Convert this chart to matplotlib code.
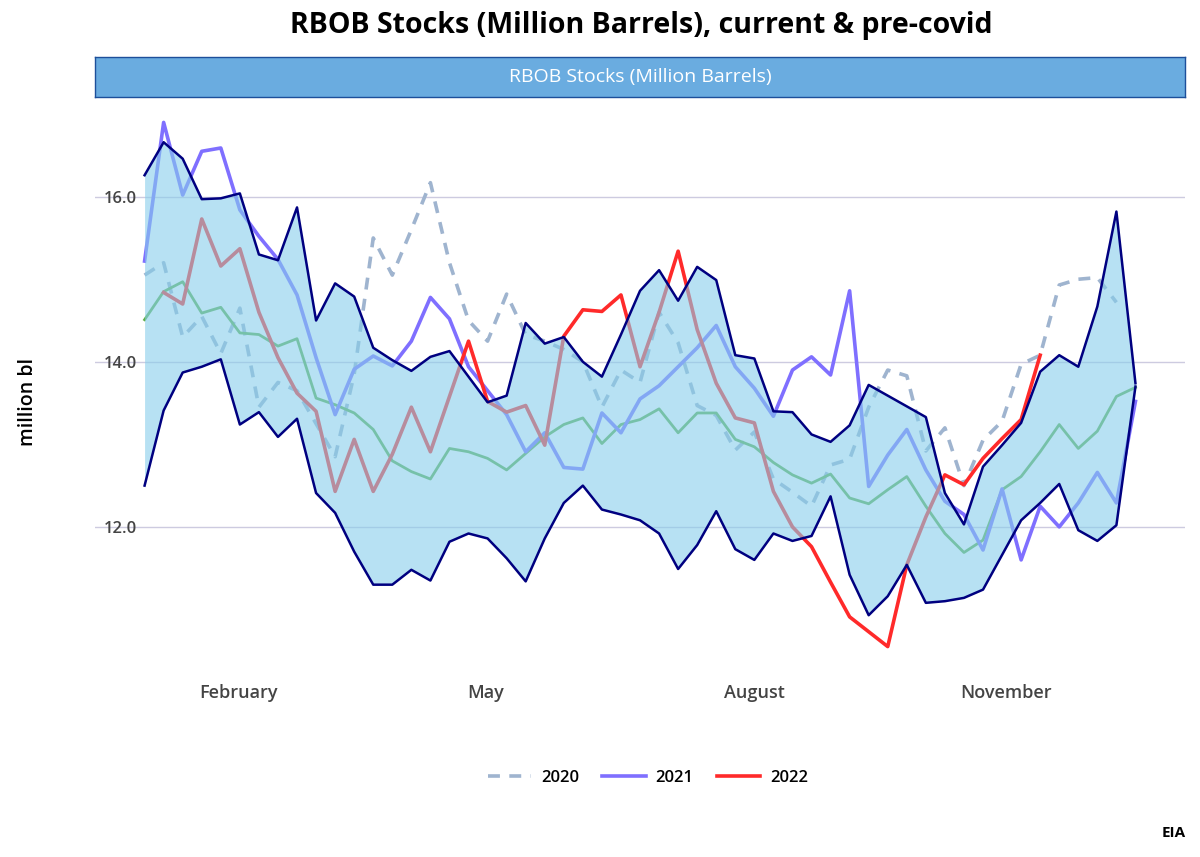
import numpy as np
import matplotlib
matplotlib.use("Agg")
import matplotlib.pyplot as plt
from matplotlib.lines import Line2D

plt.rcParams['font.family'] = ['Open Sans', 'DejaVu Sans']

# weekly RBOB stocks, million barrels (week index 0..52)
nan = np.nan
range_max = [16.26, 16.66, 16.46, 15.97, 15.98, 16.04, 15.30, 15.23, 15.87, 14.50,
             14.95, 14.79, 14.17, 14.02, 13.89, 14.06, 14.13, 13.82, 13.51, 13.59,
             14.47, 14.22, 14.30, 14.00, 13.82, 14.33, 14.86, 15.11, 14.74, 15.15,
             14.99, 14.08, 14.04, 13.40, 13.39, 13.12, 13.03, 13.23, 13.72, 13.59,
             13.46, 13.33, 12.41, 12.03, 12.73, 12.99, 13.26, 13.88, 14.08, 13.94,
             14.67, 15.82, 13.74]
range_min = [12.50, 13.41, 13.87, 13.94, 14.03, 13.24, 13.39, 13.09, 13.31, 12.41,
             12.17, 11.70, 11.30, 11.30, 11.48, 11.35, 11.82, 11.92, 11.86, 11.62,
             11.34, 11.86, 12.29, 12.50, 12.21, 12.15, 12.08, 11.92, 11.49, 11.78,
             12.19, 11.73, 11.60, 11.92, 11.83, 11.89, 12.37, 11.42, 10.93, 11.16,
             11.54, 11.08, 11.10, 11.14, 11.24, 11.66, 12.08, 12.29, 12.52, 11.96,
             11.83, 12.02, 13.70]
range_avg = [14.51, 14.85, 14.97, 14.59, 14.66, 14.35, 14.33, 14.19, 14.28, 13.56,
             13.48, 13.38, 13.18, 12.80, 12.67, 12.58, 12.95, 12.91, 12.83, 12.69,
             12.89, 13.09, 13.24, 13.32, 13.01, 13.24, 13.30, 13.43, 13.14, 13.38,
             13.38, 13.06, 12.97, 12.78, 12.63, 12.53, 12.64, 12.35, 12.28, 12.45,
             12.61, 12.25, 11.92, 11.69, 11.84, 12.45, 12.61, 12.91, 13.24, 12.95,
             13.16, 13.58, 13.69]
stocks_2020 = [15.05, 15.20, 14.30, 14.55, 14.10, 14.65, 13.45, 13.75, 13.65, 13.25,
               12.85, 13.85, 15.50, 15.05, 15.60, 16.17, 15.20, 14.50, 14.25, 14.82,
               14.33, 14.25, 14.15, 14.00, 13.45, 13.90, 13.75, 14.60, 14.23, 13.47,
               13.35, 12.93, 13.15, 12.58, 12.42, 12.25, 12.75, 12.82, 13.45, 13.90,
               13.83, 12.92, 13.20, 12.50, 13.05, 13.28, 13.97, 14.08, 14.93, 15.00,
               15.02, 14.72, nan]
stocks_2021 = [15.22, 16.90, 16.02, 16.55, 16.59, 15.84, 15.52, 15.24, 14.81, 14.05,
               13.36, 13.91, 14.07, 13.95, 14.25, 14.78, 14.52, 13.94, 13.65, 13.36,
               12.91, 13.14, 12.72, 12.70, 13.38, 13.14, 13.55, 13.71, 13.94, 14.17,
               14.44, 13.94, 13.68, 13.34, 13.90, 14.06, 13.84, 14.86, 12.49, 12.87,
               13.18, 12.69, 12.31, 12.15, 11.72, 12.46, 11.60, 12.25, 12.00, 12.29,
               12.66, 12.29, 13.52]
stocks_2022 = [nan, 14.84, 14.70, 15.73, 15.16, 15.37, 14.60, 14.05, 13.62, 13.40,
               12.43, 13.06, 12.43, 12.88, 13.45, 12.91, 13.58, 14.25, 13.52, 13.39,
               13.47, 12.99, 14.31, 14.63, 14.61, 14.81, 13.94, 14.60, 15.34, 14.39,
               13.74, 13.32, 13.26, 12.43, 12.00, 11.76, 11.33, 10.91, 10.73, 10.55,
               11.54, 12.12, 12.63, 12.51, 12.83, 13.07, 13.30, 14.08]

month_ticks = [4.92, 17.89, 32.01, 45.19]
month_labels = ['February', 'May', 'August', 'November']
year_labels = ['2020', '2021', '2022']

weeks = np.arange(len(range_max))
w22 = np.arange(len(stocks_2022))

fig = plt.figure(figsize=(12, 8.57), dpi=100)
ax = fig.add_axes([0.0792, 0.2147, 0.9083, 0.6733])

c20, c21, c22 = '#9fb4cf', '#7f6fff', '#ff2a2a'
ax.plot(weeks, stocks_2020, color=c20, lw=2.6, ls=(0, (3.3, 2.6)), zorder=1)
ax.plot(weeks, range_avg, color='#5fae48', lw=2.0, zorder=1)
ax.plot(weeks, stocks_2021, color=c21, lw=2.6, zorder=1)
ax.plot(w22, stocks_2022, color=c22, lw=2.6, zorder=1)
ax.fill_between(weeks, range_min, range_max, color='skyblue', alpha=0.6, lw=0, zorder=2)
ax.plot(weeks, range_max, color='navy', lw=1.8, zorder=3)
ax.plot(weeks, range_min, color='navy', lw=1.8, zorder=3)

ax.set_xlim(-2.6, 54.6)
ax.set_ylim(10.23, 17.22)
ax.set_yticks([12, 14, 16])
ax.set_yticklabels(['12.0', '14.0', '16.0'])
ax.set_xticks(month_ticks)
ax.set_xticklabels(month_labels)
ax.grid(axis='y', color='#cdcbe0', lw=1)
ax.set_axisbelow(True)
for s in ax.spines.values():
    s.set_visible(False)
ax.tick_params(axis='y', length=0, pad=-30, labelsize=12, labelcolor='#444444')
ax.tick_params(axis='x', length=0, pad=8, labelsize=13, labelcolor='#444444')
for lab in ax.get_xticklabels() + ax.get_yticklabels():
    lab.set_fontweight('semibold')

# facet strip
strip = fig.add_axes([0.0792, 0.8868, 0.9083, 0.0467])
strip.set_facecolor('#6aace0')
strip.set_xticks([])
strip.set_yticks([])
for s in strip.spines.values():
    s.set_color('#1d4f9a')
    s.set_linewidth(1)
strip.text(0.5, 0.5, 'RBOB Stocks (Million Barrels)', color='white', fontsize=14,
           ha='center', va='center', transform=strip.transAxes)

fig.text(0.5346, 1 - 25 / 857, 'RBOB Stocks (Million Barrels), current & pre-covid',
         fontsize=20.5, fontweight='bold', ha='center', va='center')
fig.text(28 / 1200, 1 - 402 / 857, 'million bl', rotation=90, fontsize=14,
         fontweight='semibold', ha='center', va='center')
fig.text(0.988, 1 - 833 / 857, 'EIA', fontsize=11, fontweight='bold', ha='right', va='center')

handles = [Line2D([], [], color=c20, lw=2.6, ls=(0, (3.3, 2.6))),
           Line2D([], [], color=c21, lw=2.6),
           Line2D([], [], color=c22, lw=2.6)]
fig.legend(handles, year_labels, loc='center', bbox_to_anchor=(0.54, 1 - 778 / 857),
           ncol=3, frameon=False, handlelength=2.6, handletextpad=0.6, columnspacing=1.4,
           prop={'size': 12, 'weight': 'semibold'})

fig.savefig('out.png', dpi=100)
